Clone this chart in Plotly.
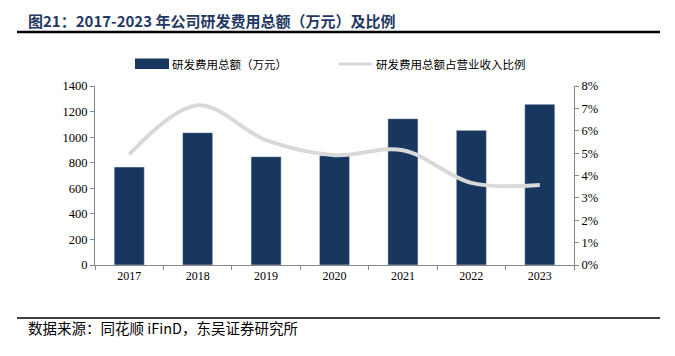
import plotly.graph_objects as go

years = ["2017", "2018", "2019", "2020", "2021", "2022", "2023"]
rd_expense = [766, 1035, 847, 855, 1144, 1053, 1257]
rd_ratio = [0.0494, 0.0714, 0.0558, 0.0491, 0.0513, 0.0367, 0.0357]
y_left_ticks = [0, 200, 400, 600, 800, 1000, 1200, 1400]
y_right_ticks = [0, 0.01, 0.02, 0.03, 0.04, 0.05, 0.06, 0.07, 0.08]

title = "图21：2017-2023 年公司研发费用总额（万元）及比例"
source = "数据来源：同花顺 iFinD，东吴证券研究所"
bar_name = "研发费用总额（万元）"
line_name = "研发费用总额占营业收入比例"

OFF = 8  # page body margin
W, H = 675 - OFF, 356 - OFF
L, R, T, B = 95 - OFF, 574 - OFF, 86 - OFF, 265 - OFF
pw, ph = R - L, B - T

def px(x):
    return (x - OFF - L) / pw

def py(y):
    return (B - (y - OFF)) / ph

BAR_COLOR = "#17375E"
LINE_COLOR = "#D9D9D9"
AXIS_COLOR = "#888888"
serif = "Liberation Serif, Times New Roman, serif"
cjk = "Noto Sans CJK SC"

fig = go.Figure()
fig.add_trace(go.Bar(x=years, y=rd_expense, marker_color=BAR_COLOR, width=0.44,
                     name=bar_name, showlegend=False, yaxis="y"))
fig.add_trace(go.Scatter(x=years, y=rd_ratio, mode="lines", name=line_name,
                         line=dict(color=LINE_COLOR, width=4, shape="spline", smoothing=1.0),
                         showlegend=False, yaxis="y2"))

fig.update_layout(
    width=W, height=H,
    margin=dict(l=L, r=W - R, t=T, b=H - B),
    paper_bgcolor="white", plot_bgcolor="white",
    bargap=0.56,
    xaxis=dict(type="category", showline=True, linecolor=AXIS_COLOR, linewidth=1,
               ticks="outside", tickson="boundaries", ticklen=4, tickcolor=AXIS_COLOR,
               tickfont=dict(family=serif, size=12, color="#000000"), showgrid=False),
    yaxis=dict(range=[0, 1400], tickvals=y_left_ticks, showline=True, linecolor=AXIS_COLOR,
               ticks="outside", ticklen=4, tickcolor=AXIS_COLOR, showgrid=False, zeroline=False,
               tickfont=dict(family=serif, size=12.5, color="#000000")),
    yaxis2=dict(range=[0, 0.08], tickvals=y_right_ticks, tickformat=".0%", overlaying="y",
                side="right", showline=True, linecolor=AXIS_COLOR, ticks="outside", ticklen=4,
                tickcolor=AXIS_COLOR, showgrid=False, zeroline=False,
                tickfont=dict(family=serif, size=12.5, color="#000000")),
)

shapes = [
    dict(type="line", xref="paper", yref="paper", x0=px(17), x1=px(660), y0=py(32), y1=py(32),
         line=dict(color="#000000", width=2.5)),
    dict(type="line", xref="paper", yref="paper", x0=px(17), x1=px(660), y0=py(318), y1=py(318),
         line=dict(color="#000000", width=1.5)),
    dict(type="rect", xref="paper", yref="paper", x0=px(135), x1=px(169), y0=py(58.5), y1=py(69),
         fillcolor=BAR_COLOR, line=dict(width=0)),
    dict(type="line", xref="paper", yref="paper", x0=px(339), x1=px(372), y0=py(64), y1=py(64),
         line=dict(color=LINE_COLOR, width=3)),
]
fig.update_layout(shapes=shapes)

annotations = [
    dict(text="<b>" + title + "</b>", x=px(26), y=py(OFF + 0.5), xref="paper", yref="paper",
         xanchor="left", yanchor="top", showarrow=False,
         font=dict(family=cjk, size=15, color="#1F3864")),
    dict(text=bar_name, x=px(170), y=py(64), xref="paper", yref="paper",
         xanchor="left", yanchor="middle", showarrow=False,
         font=dict(family=cjk, size=11.5, color="#000000")),
    dict(text=line_name, x=px(374), y=py(64), xref="paper", yref="paper",
         xanchor="left", yanchor="middle", showarrow=False,
         font=dict(family=cjk, size=11.5, color="#000000")),
    dict(text=source, x=px(26), y=py(327), xref="paper", yref="paper",
         xanchor="left", yanchor="middle", showarrow=False,
         font=dict(family=cjk, size=14.5, color="#000000")),
]
fig.update_layout(annotations=annotations)

fig.write_html("out.html")
